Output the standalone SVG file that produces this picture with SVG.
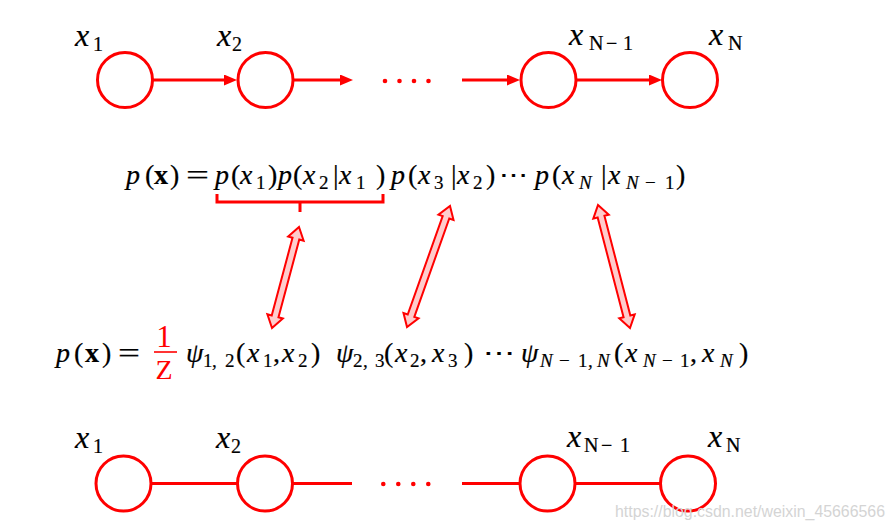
<svg xmlns="http://www.w3.org/2000/svg" width="895" height="530" viewBox="0 0 895 530">
<defs>
<style>
.nd{fill:#fff;stroke:#f00;stroke-width:3}
.ln{stroke:#f00;stroke-width:3;fill:none}
.dt{fill:#f00}
.m{font-family:"Liberation Serif","DejaVu Serif",serif;font-size:28px;fill:#000;stroke:#000;stroke-width:0.2}
.i{font-style:italic}
.b{font-weight:bold}
.s{font-size:19px}
.lab{font-family:"Liberation Serif","DejaVu Serif",serif;font-size:32px;font-style:italic;fill:#000;stroke:#000;stroke-width:0.2}
.ls{font-size:20px;font-style:normal}
.dbl{fill:#ffcccc;stroke:#f00;stroke-width:2;stroke-linejoin:miter}
</style>
<marker id="ah" markerUnits="userSpaceOnUse" markerWidth="14" markerHeight="12" refX="7" refY="5.5" orient="auto">
<path d="M0,0 L13,5.5 L0,11 z" fill="#f00"/>
</marker>
</defs>
<rect width="895" height="530" fill="#fff"/>

<!-- top directed chain -->
<g id="connectors-top">
<line class="ln" x1="153" y1="80" x2="231" y2="80" marker-end="url(#ah)"/>
<line class="ln" x1="294" y1="80" x2="347" y2="80" marker-end="url(#ah)"/>
<line class="ln" x1="462" y1="80" x2="514" y2="80" marker-end="url(#ah)"/>
<line class="ln" x1="577" y1="80" x2="656" y2="80" marker-end="url(#ah)"/>
<circle class="dt" cx="385" cy="81" r="2.3"/><circle class="dt" cx="399.5" cy="81" r="2.3"/><circle class="dt" cx="414" cy="81" r="2.3"/><circle class="dt" cx="428.5" cy="81" r="2.3"/>
</g>
<g id="t-x1"><circle class="nd" cx="125" cy="80" r="27.5"/><text class="lab" x="75" y="46">x<tspan class="ls" x="93" y="51">1</tspan></text></g>
<g id="t-x2"><circle class="nd" cx="265.5" cy="80" r="27.5"/><text class="lab" x="217" y="46">x<tspan class="ls" x="232" y="51">2</tspan></text></g>
<g id="t-xn1"><circle class="nd" cx="548.5" cy="80" r="27.5"/><text class="lab" x="569" y="45">x<tspan class="ls" x="589" y="50" font-style="italic">N</tspan><tspan class="ls" x="606" y="50">−</tspan><tspan class="ls" x="623" y="50">1</tspan></text></g>
<g id="t-xn"><circle class="nd" cx="690" cy="80" r="27.5"/><text class="lab" x="709" y="45">x<tspan class="ls" x="728" y="50" font-style="italic">N</tspan></text></g>

<!-- equation 1 -->
<g id="eq1">
<text class="m" y="184"><tspan class="i" x="126">p</tspan><tspan x="145">(</tspan><tspan class="b" x="154">x</tspan><tspan x="170">)</tspan><tspan class="i" x="215">p</tspan><tspan x="231">(</tspan><tspan class="i" x="240">x</tspan><tspan class="s" x="256" y="189">1</tspan><tspan x="268" y="184">)</tspan><tspan class="i" x="278">p</tspan><tspan x="293">(</tspan><tspan class="i" x="303">x</tspan><tspan class="s" x="319" y="189">2</tspan><tspan x="333" y="184">|</tspan><tspan class="i" x="339">x</tspan><tspan class="s" x="356" y="189">1</tspan><tspan x="376" y="184">)</tspan><tspan class="i" x="391">p</tspan><tspan x="408">(</tspan><tspan class="i" x="418">x</tspan><tspan class="s" x="434" y="189">3</tspan><tspan x="451" y="184">|</tspan><tspan class="i" x="457">x</tspan><tspan class="s" x="473" y="189">2</tspan><tspan x="486" y="184">)</tspan><tspan class="i" x="535">p</tspan><tspan x="552">(</tspan><tspan class="i" x="562">x</tspan><tspan class="s i" x="579" y="189">N</tspan><tspan x="601" y="184">|</tspan><tspan class="i" x="608">x</tspan><tspan class="s i" x="626" y="189">N</tspan><tspan class="s" x="645" y="189">−</tspan><tspan class="s" x="665" y="189">1</tspan><tspan x="676" y="184">)</tspan></text>
<text class="m" x="186" y="184" textLength="23" lengthAdjust="spacingAndGlyphs">=</text>
<text class="m" x="499" y="184" textLength="29" lengthAdjust="spacingAndGlyphs">⋯</text>
<path class="ln" d="M217,194 L217,202 L383,202 L383,194 M300,202 L300,212" stroke-width="2"/>
</g>

<!-- correspondence arrows -->
<g id="double-arrows">
<path class="dbl" transform="translate(285.5,277.5) rotate(-75.03)" d="M-52.25,0 L-40.25,-8 L-40.25,-3.5 L40.25,-3.5 L40.25,-8 L52.25,0 L40.25,8 L40.25,3.5 L-40.25,3.5 L-40.25,8 Z"/>
<path class="dbl" transform="translate(428.5,266.5) rotate(-70.44)" d="M-64.2,0 L-52.2,-8 L-52.2,-3.5 L52.2,-3.5 L52.2,-8 L64.2,0 L52.2,8 L52.2,3.5 L-52.2,3.5 L-52.2,8 Z"/>
<path class="dbl" transform="translate(614,266.5) rotate(75.42)" d="M-63.5,0 L-51.5,-8 L-51.5,-3.5 L51.5,-3.5 L51.5,-8 L63.5,0 L51.5,8 L51.5,3.5 L-51.5,3.5 L-51.5,8 Z"/>
</g>

<!-- equation 2 -->
<g id="eq2">
<text class="m" y="362"><tspan class="i" x="56">p</tspan><tspan x="74">(</tspan><tspan class="b" x="85">x</tspan><tspan x="102">)</tspan><tspan class="i" x="186">ψ</tspan><tspan class="s" x="203" y="367">1</tspan><tspan class="s" x="212" y="367">,</tspan><tspan class="s" x="225" y="367">2</tspan><tspan x="236" y="362">(</tspan><tspan class="i" x="247">x</tspan><tspan class="s" x="263" y="367">1</tspan><tspan x="273" y="362">,</tspan><tspan class="i" x="282">x</tspan><tspan class="s" x="298" y="367">2</tspan><tspan x="311" y="362">)</tspan><tspan class="i" x="336">ψ</tspan><tspan class="s" x="353" y="367">2</tspan><tspan class="s" x="363" y="367">,</tspan><tspan class="s" x="375" y="367">3</tspan><tspan x="384" y="362">(</tspan><tspan class="i" x="395">x</tspan><tspan class="s" x="410" y="367">2</tspan><tspan x="420" y="362">,</tspan><tspan class="i" x="432">x</tspan><tspan class="s" x="448" y="367">3</tspan><tspan x="464" y="362">)</tspan><tspan class="i" x="521">ψ</tspan><tspan class="s i" x="540" y="367">N</tspan><tspan class="s" x="559" y="367">−</tspan><tspan class="s" x="578" y="367">1</tspan><tspan class="s" x="588" y="367">,</tspan><tspan class="s i" x="597" y="367">N</tspan><tspan x="614" y="362">(</tspan><tspan class="i" x="625">x</tspan><tspan class="s i" x="643" y="367">N</tspan><tspan class="s" x="662" y="367">−</tspan><tspan class="s" x="680" y="367">1</tspan><tspan x="690" y="362">,</tspan><tspan class="i" x="702">x</tspan><tspan class="s i" x="720" y="367">N</tspan><tspan x="739" y="362">)</tspan></text>
<text class="m" x="118" y="362" textLength="22" lengthAdjust="spacingAndGlyphs">=</text>
<text class="m" x="483" y="362" textLength="32" lengthAdjust="spacingAndGlyphs">⋯</text>
<text x="164" y="347" text-anchor="middle" font-family="Liberation Serif, serif" font-size="31" fill="#f00">1</text>
<line x1="154" y1="352" x2="177" y2="352" stroke="#f00" stroke-width="1.6"/>
<text x="164" y="379" text-anchor="middle" font-family="Liberation Serif, serif" font-size="28" fill="#f00">Z</text>
</g>

<!-- bottom undirected chain -->
<g id="connectors-bottom">
<line class="ln" x1="151" y1="483.5" x2="237.5" y2="483.5"/>
<line class="ln" x1="293" y1="483.5" x2="352" y2="483.5"/>
<line class="ln" x1="462" y1="483.5" x2="520" y2="483.5"/>
<line class="ln" x1="575" y1="483.5" x2="660.5" y2="483.5"/>
<circle class="dt" cx="383.3" cy="484" r="2.3"/><circle class="dt" cx="398.3" cy="484" r="2.3"/><circle class="dt" cx="413.3" cy="484" r="2.3"/><circle class="dt" cx="428.3" cy="484" r="2.3"/>
</g>
<g id="b-x1"><circle class="nd" cx="123.5" cy="483.5" r="27.5"/><text class="lab" x="75" y="448">x<tspan class="ls" x="93" y="453">1</tspan></text></g>
<g id="b-x2"><circle class="nd" cx="265" cy="483.5" r="27.5"/><text class="lab" x="216" y="448">x<tspan class="ls" x="231" y="453">2</tspan></text></g>
<g id="b-xn1"><circle class="nd" cx="547.5" cy="483.5" r="27.5"/><text class="lab" x="567" y="447">x<tspan class="ls" x="584" y="452" font-style="italic">N</tspan><tspan class="ls" x="601" y="452">−</tspan><tspan class="ls" x="620" y="452">1</tspan></text></g>
<g id="b-xn"><circle class="nd" cx="688" cy="483.5" r="27.5"/><text class="lab" x="708" y="447">x<tspan class="ls" x="726" y="452" font-style="italic">N</tspan></text></g>

<text x="615" y="517" font-family="Liberation Sans, Arial, sans-serif" font-size="16" fill="#d4d4d4" textLength="270" lengthAdjust="spacingAndGlyphs">https://blog.csdn.net/weixin_45666566</text>
</svg>
